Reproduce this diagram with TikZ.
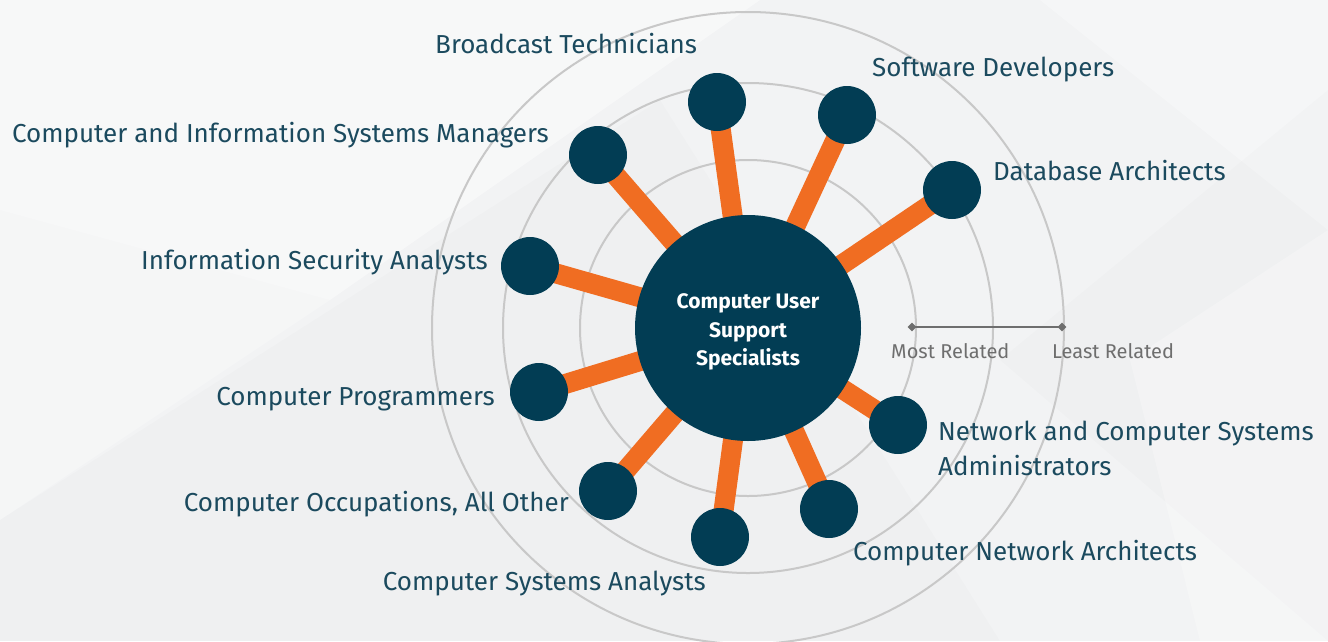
\documentclass[tikz,border=0pt]{standalone}
\usepackage{fontspec}
\setmainfont{Fira Sans}
\usetikzlibrary{shapes.geometric}
\definecolor{bgbase}{HTML}{F2F3F4}
\definecolor{navy}{HTML}{023D54}
\definecolor{labelc}{HTML}{1B4A5E}
\definecolor{spoke}{HTML}{F06D22}
\definecolor{ring}{HTML}{C8C8C8}
\definecolor{scalec}{HTML}{6E6E6E}
\tikzset{
  hub/.style={circle, fill=navy, minimum size=226pt, inner sep=0pt},
  hubtext/.style={text=white, font=\fontsize{21}{28.5}\selectfont\bfseries, align=center, inner sep=0pt},
  sat/.style={circle, fill=navy, minimum size=58pt, inner sep=0pt},
  link/.style={draw=spoke, line width=20pt},
  ringline/.style={draw=ring, line width=2pt},
  lbl/.style={text=labelc, font=\fontsize{26}{35}\selectfont, inner sep=0pt},
  scalelbl/.style={text=scalec, font=\fontsize{20}{22}\selectfont, inner sep=0pt},
  tick/.style={diamond, fill=scalec, minimum size=9pt, inner sep=0pt}
}
\begin{document}
\begin{tikzpicture}[x=1pt,y=-1pt]
% background
\fill[bgbase] (0,0) rectangle (1328,641);
\useasboundingbox (0,0) rectangle (1328,641);
\fill[white,opacity=0.45] (0,0) -- (760,0) -- (330,300) -- (0,210) -- cycle;
\fill[white,opacity=0.25] (0,210) -- (330,300) -- (0,520) -- cycle;
\fill[black,opacity=0.012] (0,520) -- (660,100) -- (1000,641) -- (0,641) -- cycle;
\fill[white,opacity=0.3] (1040,0) -- (1328,0) -- (1328,230) -- cycle;
\fill[black,opacity=0.01] (1328,90) -- (1000,360) -- (1328,641) -- cycle;
\fill[white,opacity=0.25] (1130,360) -- (1328,230) -- (1328,641) -- (1200,641) -- cycle;
% rings
\coordinate (c) at (748,328);
\draw[ringline] (c) circle[radius=168];
\draw[ringline] (c) circle[radius=245];
\draw[ringline] (c) circle[radius=316];
% satellite positions
\coordinate (pbt) at (717,102);
\coordinate (psd) at (847,115);
\coordinate (pda) at (952,190);
\coordinate (pcm) at (598,155);
\coordinate (pis) at (530,266);
\coordinate (pcp) at (539,392);
\coordinate (pco) at (608,491);
\coordinate (pcs) at (720,537);
\coordinate (pcn) at (829,509);
\coordinate (pna) at (898,425);
% spokes
\foreach \s in {bt,sd,da,cm,is,cp,co,cs,cn,na}{
  \draw[link] (c) -- (p\s);
}
% satellites
\foreach \s in {bt,sd,da,cm,is,cp,co,cs,cn,na}{
  \node[sat] (\s) at (p\s) {};
}
% hub
\node[hub] (hub) at (c) {};
\node[hubtext] (hubt) at (748,332) {Computer User\\Support\\Specialists};
% labels
\node[lbl, anchor=base west] (lbt) at (435,53) {Broadcast Technicians};
\node[lbl, anchor=base west] (lsd) at (872,76) {Software Developers};
\node[lbl, anchor=base west] (lda) at (993,180) {Database Architects};
\node[lbl, anchor=base east] (lcm) at (549,142) {Computer and Information Systems Managers};
\node[lbl, anchor=base east] (lis) at (488,269) {Information Security Analysts};
\node[lbl, anchor=base east] (lcp) at (495,405) {Computer Programmers};
\node[lbl, anchor=base east] (lco) at (569,511) {Computer Occupations, All Other};
\node[lbl, anchor=base east] (lcs) at (706,590) {Computer Systems Analysts};
\node[lbl, anchor=base west] (lcn) at (853,560) {Computer Network Architects};
\node[lbl, anchor=base west] (lna) at (938,440) {Network and Computer Systems};
\node[lbl, anchor=base west] (lna2) at (938,475) {Administrators};
% scale
\node[tick] (t1) at (912,327) {};
\node[tick] (t2) at (1062,327) {};
\draw[scalec, line width=2.2pt] (t1.center) -- (t2.center);
\node[scalelbl, anchor=base west] (mr) at (891,358) {Most Related};
\node[scalelbl, anchor=base west] (lr) at (1052,358) {Least Related};
\end{tikzpicture}
\end{document}
